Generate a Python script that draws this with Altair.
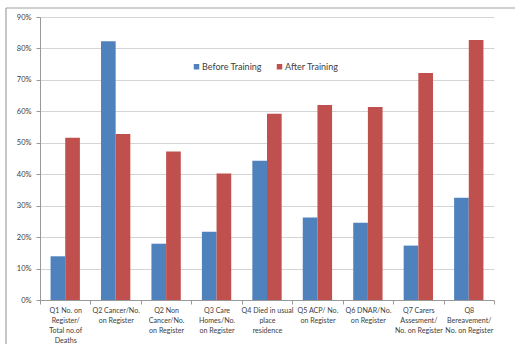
import altair as alt
import pandas as pd

categories = [
    "Q1  No. on|Register/|Total no.of|Deaths",
    "Q2 Cancer/No.|on Register",
    "Q2 Non|Cancer/No.|on Register",
    "Q3 Care|Homes/No.|on Register",
    "Q4 Died in usual|place|residence",
    "Q5 ACP/ No.|on Register",
    "Q6 DNAR/No.|on Register",
    "Q7 Carers|Assesment/|No. on Register",
    "Q8|Bereavement/|No. on Register",
]
before = [0.139, 0.823, 0.179, 0.217, 0.443, 0.262, 0.246, 0.173, 0.325]
after = [0.516, 0.528, 0.472, 0.402, 0.592, 0.620, 0.614, 0.722, 0.827]
series = ["Before Training", "After Training"]
colors = ["#4F81BD", "#C0504D"]
y_ticks = [0, 0.1, 0.2, 0.3, 0.4, 0.5, 0.6, 0.7, 0.8, 0.9]

rows = []
for c, b, a in zip(categories, before, after):
    rows.append({"cat": c, "series": series[0], "value": b})
    rows.append({"cat": c, "series": series[1], "value": a})
df = pd.DataFrame(rows)

FONT = "Lato"
TXT = "#404040"

bars = alt.Chart(df).mark_bar().encode(
    x=alt.X(
        "cat:N",
        sort=categories,
        scale=alt.Scale(paddingInner=0, paddingOuter=0),
        axis=alt.Axis(
            title=None,
            labelAngle=0,
            labelExpr="split(datum.label, '|')",
            labelFont=FONT,
            labelFontSize=7.1,
            labelColor=TXT,
            labelLineHeight=10,
            labelBaseline="top",
            labelPadding=2,
            tickBand="extent",
            tickSize=4,
            tickColor="#999999",
            domainColor="#999999",
            grid=False,
        ),
    ),
    xOffset=alt.XOffset(
        "series:N", sort=series, scale=alt.Scale(paddingInner=0, paddingOuter=0.72)
    ),
    y=alt.Y(
        "value:Q",
        scale=alt.Scale(domain=[0, 0.9], nice=False),
        axis=alt.Axis(
            title=None,
            values=y_ticks,
            format=".0%",
            labelFont=FONT,
            labelFontSize=7.5,
            labelColor=TXT,
            labelPadding=5,
            tickSize=4,
            tickColor="#999999",
            domainColor="#999999",
            gridColor="#d4d4d4",
            gridWidth=1,
        ),
    ),
    color=alt.Color(
        "series:N",
        sort=series,
        scale=alt.Scale(domain=series, range=colors),
        legend=alt.Legend(
            title=None,
            orient="none",
            legendX=152,
            legendY=45,
            direction="horizontal",
            symbolType="square",
            symbolSize=30,
            symbolStrokeWidth=0,
            labelFont=FONT,
            labelFontSize=9,
            labelColor=TXT,
            columnPadding=13,
            labelOffset=1,
        ),
    ),
)

frame_df = pd.DataFrame({"k": [0]})
top_line = alt.Chart(frame_df).mark_rule(color="#a0a0a0", strokeWidth=1.2).encode(
    x=alt.value(-34), x2=alt.value(480), y=alt.value(-9)
)
left_line = alt.Chart(frame_df).mark_rule(color="#a0a0a0", strokeWidth=1.2).encode(
    x=alt.value(-34), y=alt.value(-9), y2=alt.value(330)
)

chart = alt.layer(bars, top_line, left_line).properties(
    width=454,
    height=283,
    autosize=alt.AutoSizeParams(type="none"),
    padding={"left": 40, "top": 17, "right": 21, "bottom": 44},
    background="white",
).configure_view(stroke=None)

chart.save("out.html", embed_options={"renderer": "svg", "actions": False})
